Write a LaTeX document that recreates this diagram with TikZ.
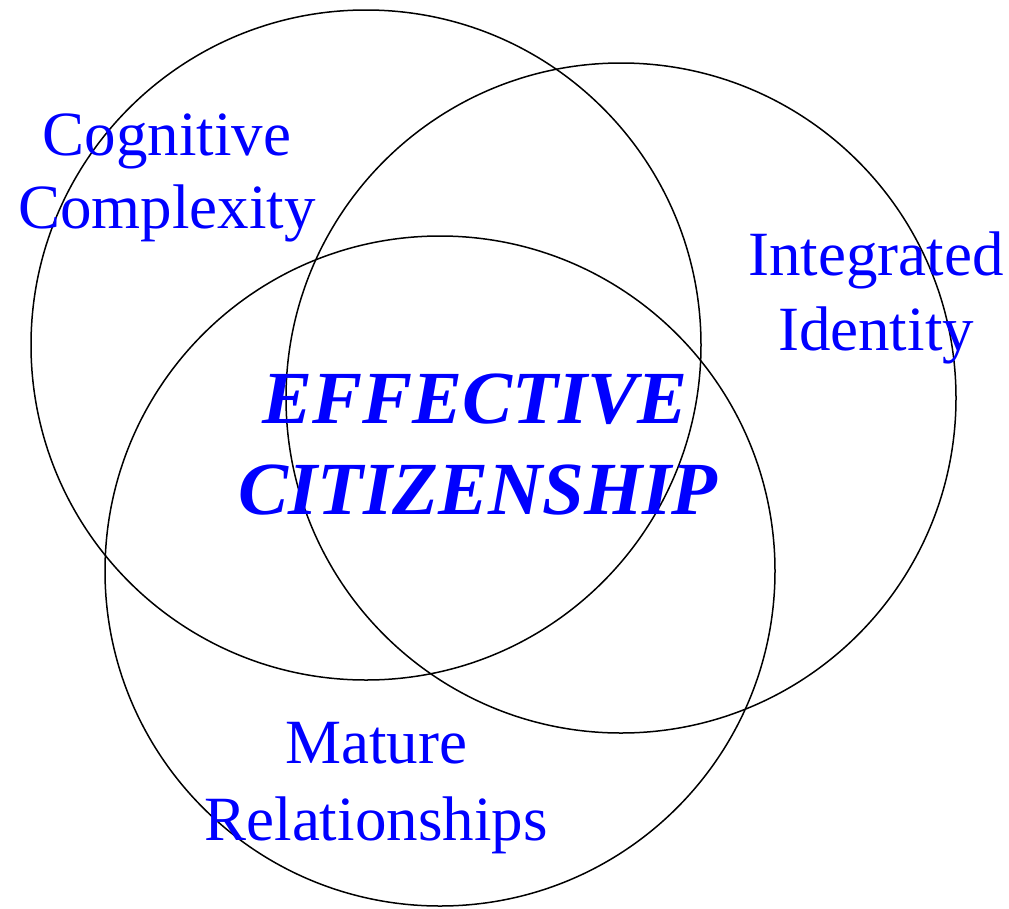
\documentclass[tikz,border=0pt]{standalone}
\usepackage{fontspec}
\setmainfont{Liberation Serif}
\begin{document}
\begin{tikzpicture}[x=1pt,y=-1pt,
  ring/.style={draw=black,line width=1.5pt},
  lbl/.style={text=blue,font=\fontsize{63}{73}\selectfont,inner sep=0pt,anchor=base},
  big/.style={text=blue,font=\fontsize{75}{90}\selectfont\bfseries\itshape,inner sep=0pt,anchor=base}]
\useasboundingbox (0,0) rectangle (1009,908);
\draw[ring] (366,345) circle[radius=335];
\draw[ring] (621,398) circle[radius=335];
\draw[ring] (440,571) circle[radius=335];
\node[lbl] (c1) at (167,155) {Cognitive};
\node[lbl] (c2) at (167,228) {Complexity};
\node[lbl] (i1) at (876,275) {Integrated};
\node[lbl] (i2) at (876,350) {Identity};
\node[lbl] (m1) at (376,763) {Mature};
\node[lbl] (m2) at (376,840) {Relationships};
\node[big] (e1) at (475,423) {EFFECTIVE};
\node[big] (e2) at (478,514) {CITIZENSHIP};
\end{tikzpicture}
\end{document}
